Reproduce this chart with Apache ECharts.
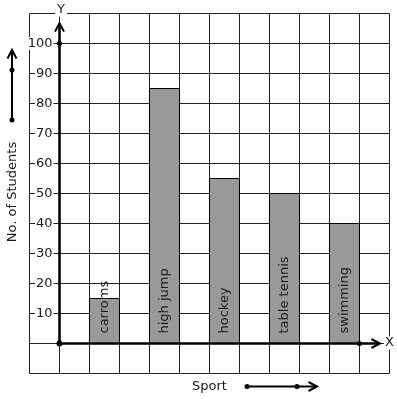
<!DOCTYPE html>
<html><head><meta charset="utf-8">
<script src="https://cdn.jsdelivr.net/npm/echarts@6/dist/echarts.min.js"></script>
<style>html,body{margin:0;padding:0;background:#fff}#c{width:397px;height:399px}</style>
</head><body><div id="c"></div>
<script>
const categories = ['carroms', 'high jump', 'hockey', 'table tennis', 'swimming'];
const students = [15, 85, 55, 50, 40];
const yTickLabels = [10, 20, 30, 40, 50, 60, 70, 80, 90, 100];
const xAxisName = 'Sport';
const yAxisName = 'No. of Students';

const FONT = 'DejaVu Sans';
const LINE = '#222';
const TXT = '#1a1a1a';
const chart = echarts.init(document.getElementById('c'), null, {renderer: 'canvas'});

function chevron(tip, dir, len, half) {
  if (dir === 'up') return [[tip[0] - half, tip[1] + len], tip, [tip[0] + half, tip[1] + len]];
  return [[tip[0] - len, tip[1] - half], tip, [tip[0] - len, tip[1] + half]];
}

const option = {
  animation: false,
  textStyle: {fontFamily: FONT},
  grid: {left: 29.5, top: 13.5, width: 360, height: 360, show: false, containLabel: false, outerBoundsMode: 'none'},
  xAxis: {
    type: 'value', min: -1, max: 11, interval: 1,
    name: xAxisName, nameLocation: 'middle', nameGap: 7,
    nameTextStyle: {fontSize: 13, color: TXT, fontFamily: FONT, verticalAlign: 'top'},
    axisLine: {show: false, onZero: false}, axisTick: {show: false}, axisLabel: {show: false},
    splitLine: {show: true, lineStyle: {color: LINE, width: 1}}
  },
  yAxis: {
    type: 'value', min: -10, max: 110, interval: 10,
    axisLine: {show: false, onZero: false}, axisTick: {show: false},
    splitLine: {show: true, lineStyle: {color: LINE, width: 1}},
    axisLabel: {
      inside: true, margin: 24, align: 'right', verticalAlign: 'middle',
      formatter: v => yTickLabels.includes(v) ? '{b|' + v + '}' : '',
      rich: {b: {backgroundColor: '#fff', fontSize: 13, color: TXT, fontFamily: FONT, padding: [0, 1, 0, 1]}}
    }
  },
  graphic: [
    {type: 'text', x: 12.5, y: 192, rotation: Math.PI / 2,
      style: {text: yAxisName, fill: TXT, font: '13px "DejaVu Sans"', align: 'center', verticalAlign: 'middle'}},
    {type: 'line', shape: {x1: 12, y1: 120, x2: 12, y2: 51}, style: {stroke: '#000', lineWidth: 2}},
    {type: 'polyline', shape: {points: chevron([12, 50], 'up', 8.5, 4.5)}, style: {stroke: '#000', lineWidth: 2, fill: null}},
    {type: 'circle', shape: {cx: 12, cy: 120, r: 2.5}, style: {fill: '#000'}},
    {type: 'circle', shape: {cx: 12, cy: 70, r: 2.5}, style: {fill: '#000'}},
    {type: 'line', shape: {x1: 247, y1: 386.5, x2: 316, y2: 386.5}, style: {stroke: '#000', lineWidth: 2}},
    {type: 'polyline', shape: {points: chevron([317, 386.5], 'right', 8.5, 4.5)}, style: {stroke: '#000', lineWidth: 2, fill: null}},
    {type: 'circle', shape: {cx: 247, cy: 386.5, r: 2.5}, style: {fill: '#000'}},
    {type: 'circle', shape: {cx: 297, cy: 386.5, r: 2.5}, style: {fill: '#000'}}
  ],
  series: [
    {
      type: 'custom',
      z: 5,
      data: categories.map((c, i) => [1 + 2 * i, students[i]]),
      renderItem: function (params, api) {
        const i = params.dataIndex;
        const x0 = api.value(0), v = api.value(1);
        const p0 = api.coord([x0, 0]);
        const p1 = api.coord([x0 + 1, v]);
        return {
          type: 'group',
          children: [
            {type: 'rect', shape: {x: p0[0], y: p1[1], width: p1[0] - p0[0], height: p0[1] - p1[1]},
              style: {fill: '#999999', stroke: '#000', lineWidth: 1}},
            {type: 'text', x: (p0[0] + p1[0]) / 2 + 0.5, y: p0[1] - 10, rotation: Math.PI / 2,
              style: {text: categories[i], fill: TXT, font: '13px "DejaVu Sans"', align: 'left', verticalAlign: 'middle'}}
          ]
        };
      }
    },
    {
      type: 'custom',
      z: 6,
      data: [[0, 0]],
      renderItem: function (params, api) {
        const o = api.coord([0, 0]);
        const yTip = api.coord([0, 106.8]);
        const xTip = api.coord([10.68, 0]);
        const y100 = api.coord([0, 100]);
        const x10 = api.coord([10, 0]);
        const topY = api.coord([0, 110]);
        const rightX = api.coord([11, 0]);
        return {
          type: 'group',
          children: [
            {type: 'line', shape: {x1: o[0], y1: o[1], x2: yTip[0], y2: yTip[1] + 1}, style: {stroke: '#000', lineWidth: 2.6}},
            {type: 'polyline', shape: {points: chevron(yTip, 'up', 8.5, 4.5)}, style: {stroke: '#000', lineWidth: 2, fill: null}},
            {type: 'line', shape: {x1: o[0], y1: o[1], x2: xTip[0] - 1, y2: xTip[1]}, style: {stroke: '#000', lineWidth: 2.6}},
            {type: 'polyline', shape: {points: chevron(xTip, 'right', 8.5, 4.5)}, style: {stroke: '#000', lineWidth: 2, fill: null}},
            {type: 'circle', shape: {cx: o[0], cy: o[1], r: 3}, style: {fill: '#000'}},
            {type: 'circle', shape: {cx: y100[0], cy: y100[1], r: 2.5}, style: {fill: '#000'}},
            {type: 'circle', shape: {cx: x10[0], cy: x10[1], r: 2.5}, style: {fill: '#000'}},
            {type: 'text', x: topY[0] + 1.5, y: topY[1] - 3.5,
              style: {text: 'Y', fill: TXT, font: '13px "DejaVu Sans"', align: 'center', verticalAlign: 'middle', backgroundColor: '#fff', padding: [0, 2, 0, 2]}},
            {type: 'text', x: rightX[0], y: rightX[1] - 0.5,
              style: {text: 'X', fill: TXT, font: '13px "DejaVu Sans"', align: 'center', verticalAlign: 'middle', backgroundColor: '#fff', padding: [0, 1, 0, 1]}}
          ]
        };
      }
    }
  ]
};
chart.setOption(option);
</script>
</body></html>
